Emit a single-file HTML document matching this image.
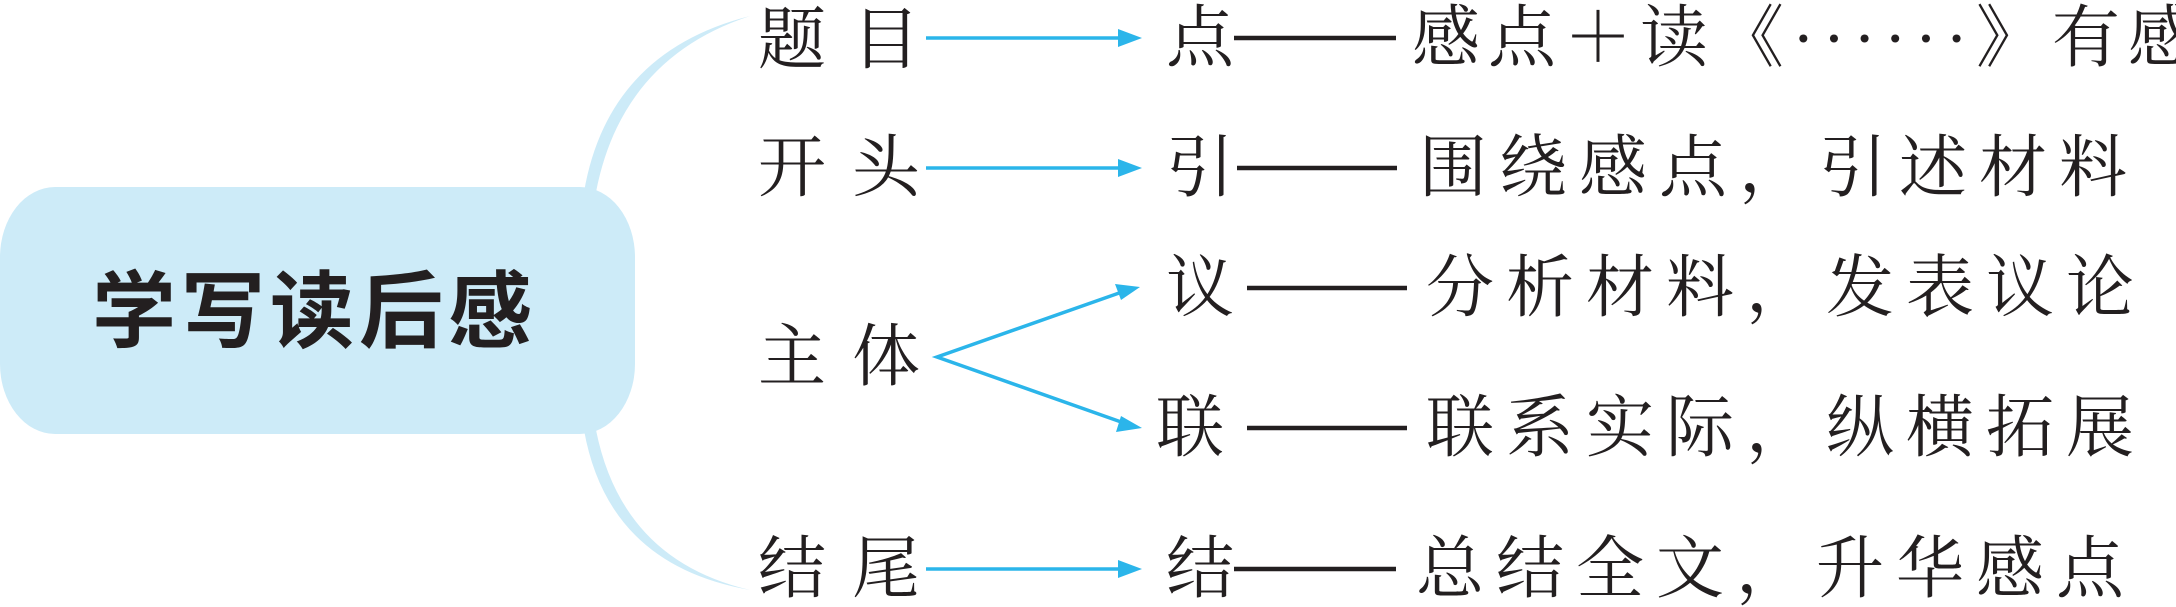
<!DOCTYPE html>
<html><head><meta charset="utf-8"><style>
html,body{margin:0;padding:0;background:#fff;}
body{width:2176px;height:605px;position:relative;overflow:hidden;}
.t{position:absolute;font-family:"Liberation Serif","Noto Serif CJK SC",serif;font-size:68px;line-height:68px;color:#231f20;white-space:nowrap;}
.l{letter-spacing:26px;}
.r{letter-spacing:12px;}
.title{position:absolute;left:92px;top:268px;font-family:"Liberation Sans","Noto Sans CJK SC",sans-serif;font-weight:bold;font-size:84px;line-height:88px;letter-spacing:5px;color:#231f20;white-space:nowrap;}
</style></head><body>
<svg width="2176" height="605" style="position:absolute;left:0;top:0">
<path d="M584 192 Q608 52 750 16 Q622 58 596 192 Z" fill="#cdebf8"/>
<path d="M584 430 Q608 565 750 590 Q622 560 596 430 Z" fill="#cdebf8"/>
<rect x="0" y="187" width="635" height="247" rx="55" ry="70" fill="#cdebf8"/>
<g stroke="#2bb5ea" stroke-width="3.5" fill="none">
<line x1="926" y1="38" x2="1125" y2="38"/>
<line x1="926" y1="168" x2="1125" y2="168"/>
<line x1="926" y1="569" x2="1125" y2="569"/>
<polyline points="1122,292 937,357 1124,423"/>
</g>
<g fill="#2bb5ea">
<polygon points="1142,38 1118,29 1118,47"/>
<polygon points="1142,168 1118,159 1118,177"/>
<polygon points="1142,569 1118,560 1118,578"/>
<polygon points="1140,287 1115,284 1121,300"/>
<polygon points="1142,428 1121,416 1116,432"/>
</g>
<g stroke="#231f20" stroke-width="4.5">
<line x1="1234" y1="38" x2="1396" y2="38"/>
<line x1="1237" y1="168" x2="1397" y2="168"/>
<line x1="1247" y1="288" x2="1407" y2="288"/>
<line x1="1247" y1="428" x2="1407" y2="428"/>
<line x1="1234" y1="569" x2="1396" y2="569"/>
</g>
</svg>
<div class="title">学写读后感</div>
<div class="t l" style="left:758px;top:6px">题目</div>
<div class="t l" style="left:758px;top:134px">开头</div>
<div class="t l" style="left:758px;top:323px">主体</div>
<div class="t l" style="left:758px;top:535px">结尾</div>
<div class="t" style="left:1166px;top:4px">点</div>
<div class="t" style="left:1166px;top:134px">引</div>
<div class="t" style="left:1166px;top:254px">议</div>
<div class="t" style="left:1156px;top:394px">联</div>
<div class="t" style="left:1166px;top:535px">结</div>
<div class="t" style="left:1412px;top:4px;letter-spacing:8px">感点＋读《······》有感</div>
<div class="t r" style="left:1419px;top:134px">围绕感点，引述材料</div>
<div class="t r" style="left:1426px;top:254px">分析材料，发表议论</div>
<div class="t r" style="left:1426px;top:394px">联系实际，纵横拓展</div>
<div class="t r" style="left:1416px;top:535px">总结全文，升华感点</div>
</body></html>
